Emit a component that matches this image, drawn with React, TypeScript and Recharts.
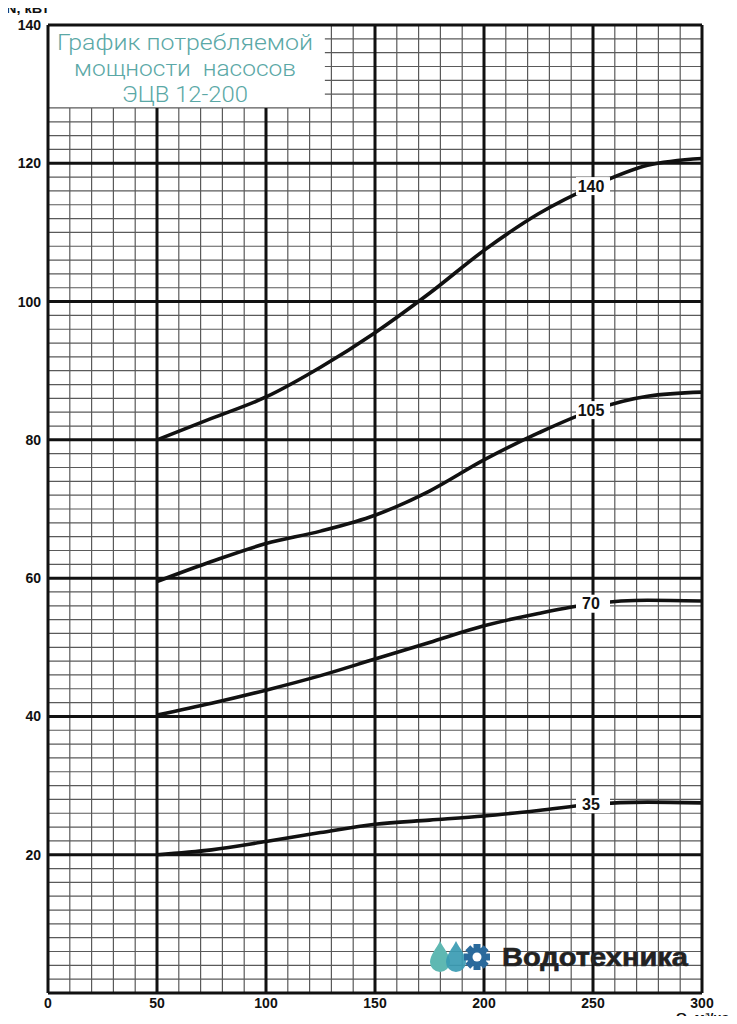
import React from "react";
import { LineChart, Line, XAxis, YAxis, ReferenceLine } from "recharts";

// Flow Q, m³/h
const Q = [50, 75, 100, 125, 150, 175, 200, 225, 250, 275, 300];
// Power N, kW for each pump head curve
const N140 = [80, 83.1, 86.2, 90.5, 95.5, 101.2, 107.4, 112.7, 116.7, 119.7, 120.7];
const N105 = [59.5, 62.4, 65.0, 66.8, 69.1, 72.6, 77.1, 81.0, 84.3, 86.3, 86.9];
const N70 = [40.2, 41.9, 43.8, 45.9, 48.3, 50.7, 53.1, 54.9, 56.3, 56.8, 56.7];
const N35 = [20.0, 20.7, 21.9, 23.2, 24.4, 25.0, 25.6, 26.4, 27.3, 27.6, 27.5];
const CURVE_NAMES = ["140", "105", "70", "35"];
const LABEL_INDEX = 8;

const X_TICKS = [0, 50, 100, 150, 200, 250, 300];
const Y_TICKS = [20, 40, 60, 80, 100, 120, 140];
const X_MAJOR = [50, 100, 150, 200, 250];
const Y_MAJOR = [20, 40, 60, 80, 100, 120];
const X_MINOR: number[] = [];
for (let v = 10; v < 300; v += 10) if (v % 50 !== 0) X_MINOR.push(v);
const Y_MINOR: number[] = [];
for (let v = 2; v < 140; v += 2) if (v % 20 !== 0) Y_MINOR.push(v);

// title box region (in data units)
const BOX_X = 127;
const BOX_Y = 128;

const TITLE_LINES = ["График потребляемой", "мощности  насосов", "ЭЦВ 12-200"];
const TITLE_WIDTHS = [256, 222, 126];

const series = [N140, N105, N70, N35].map((vals, s) => ({
  name: CURVE_NAMES[s],
  data: Q.map((q, i) => ({ q, n: vals[i] })),
}));

const makeLabel = (name: string) => (props: any) => {
  const { x, y, index } = props;
  if (index !== LABEL_INDEX || x == null || y == null) return null;
  return (
    <g key={`lbl-${name}`}>
      <rect x={x - 17} y={y - 9} width={34} height={18} fill="#ffffff" />
      <text
        x={x - 2}
        y={y}
        dy="0.36em"
        textAnchor="middle"
        fontFamily="'Liberation Sans', Arial, sans-serif"
        fontWeight="bold"
        fontSize={16}
        fill="#111"
      >
        {name}
      </text>
    </g>
  );
};

const tickStyle = {
  fontFamily: "'Liberation Sans', Arial, sans-serif",
  fontWeight: "bold" as const,
  fontSize: 14,
  fill: "#111",
};

const MINOR = "#5a5a5a";
const MAJOR = "#111";

function Logo() {
  const drop = "M 0 -16 C 4 -8 10 -2 10 5 A 10 10 0 0 1 -10 5 C -10 -2 -4 -8 0 -16 Z";
  const teeth = [0, 45, 90, 135, 180, 225, 270, 315];
  return (
    <g>
      <path d={drop} transform="translate(440,957)" fill="#5fb8b2" />
      <path d={drop} transform="translate(456,957)" fill="#3a9bb3" fillOpacity={0.92} />
      <g transform="translate(477,957)">
        {teeth.map((a) => (
          <rect key={a} x={-3.5} y={-13} width={7} height={7} fill="#2a6a9c" transform={`rotate(${a})`} />
        ))}
        <circle r={9.5} fill="#2a6a9c" />
        <circle r={4.5} fill="#ffffff" />
      </g>
      <text
        x={502}
        y={966}
        fontFamily="'Liberation Sans', Arial, sans-serif"
        fontWeight="bold"
        fontSize={25}
        fill="#222"
        stroke="#222"
        strokeWidth={0.6}
        textLength={186}
        lengthAdjust="spacingAndGlyphs"
      >
        Водотехника
      </text>
    </g>
  );
}

export default function App() {
  return (
    <div style={{ position: "relative", width: 737, height: 1024, margin: -8, background: "#fff" }}>
      <LineChart
        width={737}
        height={1024}
        margin={{ top: 25, right: 35, bottom: 0, left: 0 }}
      >
        <XAxis
          dataKey="q"
          type="number"
          domain={[0, 300]}
          ticks={X_TICKS}
          allowDataOverflow
          height={31}
          axisLine={false}
          tickLine={false}
          tickSize={0}
          tickMargin={5}
          tick={tickStyle}
          interval={0}
        />
        <YAxis
          type="number"
          domain={[0, 140]}
          ticks={Y_TICKS}
          allowDataOverflow
          width={48}
          axisLine={false}
          tickLine={false}
          tickSize={0}
          tickMargin={7}
          tick={tickStyle}
          interval={0}
        />
        {X_MINOR.map((v) => (
          <ReferenceLine
            key={`xm${v}`}
            segment={[{ x: v, y: 0 }, { x: v, y: v < BOX_X ? BOX_Y : 140 }]}
            stroke={MINOR}
            strokeWidth={1.2}
          />
        ))}
        {Y_MINOR.map((v) => (
          <ReferenceLine
            key={`ym${v}`}
            segment={[{ x: v > BOX_Y ? BOX_X : 0, y: v }, { x: 300, y: v }]}
            stroke={MINOR}
            strokeWidth={1.2}
          />
        ))}
        {X_MAJOR.map((v) => (
          <ReferenceLine
            key={`xM${v}`}
            segment={[{ x: v, y: 0 }, { x: v, y: v < BOX_X ? BOX_Y : 140 }]}
            stroke={MAJOR}
            strokeWidth={3}
          />
        ))}
        {Y_MAJOR.map((v) => (
          <ReferenceLine key={`yM${v}`} y={v} stroke={MAJOR} strokeWidth={3} />
        ))}
        <ReferenceLine x={0} stroke={MAJOR} strokeWidth={3} />
        <ReferenceLine x={300} stroke={MAJOR} strokeWidth={3} />
        <ReferenceLine y={0} stroke={MAJOR} strokeWidth={3} />
        <ReferenceLine y={140} stroke={MAJOR} strokeWidth={3} />
        {series.map((s) => (
          <Line
            key={s.name}
            data={s.data}
            dataKey="n"
            type="monotone"
            stroke="#111"
            strokeWidth={3.6}
            dot={false}
            activeDot={false}
            isAnimationActive={false}
            label={makeLabel(s.name)}
          />
        ))}
      </LineChart>
      <svg
        width={737}
        height={1024}
        style={{ position: "absolute", left: 0, top: 0, pointerEvents: "none" }}
      >
        {TITLE_LINES.map((t, i) => (
          <text
            key={i}
            x={185}
            y={49.5 + i * 26}
            textAnchor="middle"
            fontFamily="Roboto, sans-serif"
            fontWeight={300}
            fontSize={22}
            fill="#5aa8a6"
            textLength={TITLE_WIDTHS[i]}
            lengthAdjust="spacingAndGlyphs"
            style={{ whiteSpace: "pre" }}
          >
            {t}
          </text>
        ))}
        <text
          x={6}
          y={12.5}
          fontFamily="'Liberation Sans', Arial, sans-serif"
          fontWeight="bold"
          fontSize={12}
          fill="#111"
          textLength={43}
          lengthAdjust="spacingAndGlyphs"
        >
          N, кВт
        </text>
        <text
          x={676}
          y={1020.5}
          fontFamily="'Liberation Sans', Arial, sans-serif"
          fontWeight="bold"
          fontSize={11}
          fill="#111"
          textLength={61}
          lengthAdjust="spacingAndGlyphs"
        >
          Q, м³/час
        </text>
        <rect x={0} y={1021.5} width={737} height={2.5} fill="#e6e6f6" />
        <Logo />
      </svg>
    </div>
  );
}
